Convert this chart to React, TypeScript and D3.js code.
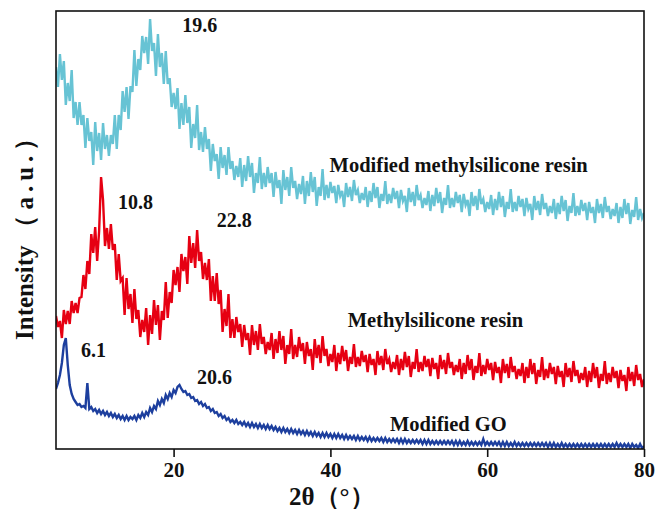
import React, { useEffect, useRef } from "react";
import * as d3 from "d3";

// XRD scans, sampled every 0.25° from 5° to 80° (intensity in a.u.)
const START_ANGLE = 5;
const STEP = 0.25;

const modifiedResin: number[] = [
  382, 362, 395, 369, 388, 344, 366, 348, 379, 331, 347, 324, 347, 324, 334, 301,
  331, 308, 317, 284, 327, 298, 316, 289, 326, 300, 314, 293, 314, 305, 334, 300,
  334, 319, 358, 337, 362, 330, 363, 357, 399, 363, 390, 379, 413, 396, 412, 385,
  430, 398, 406, 373, 415, 382, 396, 365, 398, 365, 371, 342, 356, 340, 361, 320,
  346, 324, 354, 326, 342, 301, 325, 311, 344, 299, 317, 297, 322, 300, 310, 278,
  305, 288, 295, 270, 302, 281, 294, 274, 302, 280, 288, 269, 283, 272, 291, 262,
  284, 268, 293, 272, 286, 256, 276, 266, 292, 260, 276, 262, 282, 266, 276, 252,
  277, 261, 269, 245, 279, 259, 272, 253, 282, 261, 268, 250, 265, 255, 273, 245,
  268, 253, 277, 257, 272, 243, 262, 253, 280, 249, 264, 251, 267, 256, 263, 246,
  264, 253, 258, 242, 266, 252, 262, 248, 269, 254, 259, 246, 256, 249, 262, 242,
  258, 247, 266, 251, 262, 241, 255, 248, 268, 245, 255, 246, 261, 250, 258, 241,
  259, 248, 253, 237, 261, 247, 257, 243, 264, 249, 254, 241, 251, 244, 258, 238,
  254, 243, 261, 246, 257, 236, 251, 244, 264, 241, 251, 242, 257, 246, 254, 237,
  255, 244, 249, 233, 257, 243, 253, 239, 260, 245, 250, 237, 247, 240, 254, 234,
  250, 239, 257, 242, 253, 232, 247, 240, 260, 237, 247, 238, 253, 242, 250, 233,
  251, 240, 245, 229, 253, 239, 248, 234, 255, 240, 246, 233, 243, 236, 250, 230,
  246, 235, 253, 238, 249, 228, 243, 236, 256, 233, 243, 234, 249, 238, 246, 229,
  247, 236, 242, 226, 250, 236, 245, 231, 252, 237, 243, 230, 240, 233, 246, 226,
  242, 231, 250, 235, 246, 225, 239, 232, 252, 229, 240, 231, 236,
];

const methylResin: number[] = [
  133, 122, 128, 111, 139, 125, 138, 125, 148, 136, 146, 136, 151, 152, 174, 160,
  188, 175, 215, 196, 222, 188, 218, 272, 249, 203, 221, 200, 225, 199, 205, 169,
  195, 168, 171, 134, 171, 140, 155, 126, 160, 130, 139, 112, 129, 117, 141, 104,
  134, 115, 149, 124, 144, 109, 138, 129, 167, 131, 157, 146, 179, 164, 182, 157,
  195, 178, 192, 165, 213, 186, 206, 181, 219, 188, 197, 170, 186, 169, 190, 148,
  173, 148, 176, 145, 159, 117, 140, 123, 155, 111, 130, 111, 132, 117, 125, 102,
  124, 109, 116, 94, 124, 104, 118, 99, 125, 105, 112, 95, 107, 99, 116, 90,
  110, 96, 118, 99, 113, 85, 104, 95, 120, 90, 104, 92, 112, 98, 106, 85,
  107, 93, 100, 79, 110, 91, 104, 86, 113, 93, 100, 83, 95, 87, 104, 78,
  96, 85, 103, 88, 99, 78, 92, 85, 105, 82, 92, 83, 98, 87, 94, 77,
  95, 84, 90, 74, 98, 84, 93, 79, 100, 85, 90, 77, 87, 80, 94, 74,
  90, 79, 97, 82, 93, 72, 87, 80, 100, 77, 87, 78, 93, 82, 90, 73,
  91, 80, 86, 70, 94, 80, 89, 75, 96, 81, 87, 74, 84, 77, 90, 70,
  86, 75, 94, 79, 90, 69, 83, 76, 96, 73, 84, 75, 90, 79, 86, 69,
  87, 76, 82, 66, 90, 76, 85, 71, 92, 77, 83, 70, 80, 73, 86, 66,
  82, 71, 90, 75, 86, 65, 79, 72, 92, 69, 80, 71, 86, 75, 82, 65,
  83, 72, 78, 62, 86, 72, 81, 67, 88, 73, 79, 66, 76, 69, 82, 62,
  78, 67, 86, 71, 82, 61, 75, 68, 88, 65, 76, 67, 82, 71, 78, 61,
  79, 68, 74, 58, 82, 68, 77, 63, 84, 69, 75, 62, 70,
];

const modifiedGO: number[] = [
  60, 66, 74, 86, 104, 111, 84, 64, 55, 50, 47, 44, 45, 42, 43, 41,
  66, 40, 42, 38, 40, 36, 39, 35, 38, 34, 37, 33, 36, 32, 35, 31,
  34, 30, 33, 29, 33, 29, 32, 30, 33, 29, 34, 31, 36, 32, 37, 34,
  41, 37, 43, 40, 48, 44, 50, 46, 54, 50, 56, 52, 59, 56, 62, 64,
  60, 57, 58, 54, 55, 51, 52, 48, 49, 45, 47, 43, 45, 41, 42, 38,
  40, 36, 37, 33, 35, 31, 33, 29, 31, 27, 29, 26, 29, 25, 27, 24,
  27, 23, 26, 22, 26, 22, 25, 21, 25, 21, 24, 20, 24, 20, 23, 19,
  22, 18, 21, 17, 21, 17, 20, 16, 20, 16, 19, 15, 19, 15, 18, 14,
  18, 14, 17, 13, 17, 13, 16, 12, 16, 12, 16, 12, 15, 11, 15, 11,
  15, 11, 14, 10, 14, 10, 13, 10, 13, 9, 13, 9, 12, 9, 12, 8,
  12, 8, 11, 8, 11, 8, 11, 7, 11, 7, 10, 7, 10, 7, 10, 6,
  10, 6, 10, 6, 9, 6, 9, 6, 9, 6, 9, 5, 9, 5, 9, 5,
  8, 5, 8, 5, 8, 5, 8, 5, 8, 5, 8, 4, 8, 4, 8, 4,
  7, 4, 8, 4, 7, 4, 7, 4, 7, 4, 10, 4, 7, 4, 7, 4,
  7, 4, 7, 3, 7, 3, 7, 3, 6, 3, 7, 3, 6, 3, 6, 3,
  6, 3, 6, 3, 6, 3, 6, 3, 6, 3, 6, 2, 6, 2, 6, 2,
  5, 2, 6, 2, 5, 2, 5, 2, 5, 2, 5, 2, 5, 2, 5, 2,
  5, 2, 5, 2, 5, 2, 5, 2, 5, 2, 5, 2, 5, 2, 6, 2,
  5, 2, 5, 2, 5, 1, 5, 2, 4, 1, 5, 1, 3,
];

const xTicks = [20, 40, 60, 80];

const series = [
  { name: "modified-resin", values: modifiedResin, color: "#67c3d4", width: 2.4 },
  { name: "resin", values: methylResin, color: "#e60012", width: 2.4 },
  { name: "go", values: modifiedGO, color: "#1d3f9e", width: 2.4 },
];

// peak positions and curve names, anchored in data units
const peakLabels = [
  { text: "19.6", angle: 21.1, intensity: 417 },
  { text: "10.8", angle: 12.9, intensity: 240 },
  { text: "22.8", angle: 25.5, intensity: 222 },
  { text: "6.1", angle: 8.2, intensity: 92 },
  { text: "20.6", angle: 23.0, intensity: 65 },
];

const curveLabels = [
  { text: "Modified methylsilicone resin", angle: 39.9, intensity: 277 },
  { text: "Methylsilicone resin", angle: 42.2, intensity: 122 },
  { text: "Modified GO", angle: 47.6, intensity: 18 },
];

const WIDTH = 658;
const HEIGHT = 509;
const FONT = "'Liberation Serif', 'Times New Roman', serif";

const App: React.FC = () => {
  const svgRef = useRef<SVGSVGElement | null>(null);

  useEffect(() => {
    if (!svgRef.current) return;
    const svg = d3.select(svgRef.current);
    svg.selectAll("*").remove();

    const margin = { top: 11, right: 14, bottom: 60, left: 56 };
    const innerW = WIDTH - margin.left - margin.right;
    const innerH = HEIGHT - margin.top - margin.bottom;

    const x = d3
      .scaleLinear()
      .domain([5, 80])
      .range([margin.left, margin.left + innerW]);
    const y = d3
      .scaleLinear()
      .domain([0, 438])
      .range([margin.top + innerH, margin.top]);

    const line = d3
      .line<number>()
      .x((_, i) => x(START_ANGLE + i * STEP))
      .y((d) => y(d));

    // keep the noisy scans inside the frame
    svg
      .append("clipPath")
      .attr("id", "plot-clip")
      .append("rect")
      .attr("x", margin.left)
      .attr("y", margin.top)
      .attr("width", innerW)
      .attr("height", innerH);

    const g = svg.append("g").attr("clip-path", "url(#plot-clip)");

    series.forEach((s) => {
      g.append("path")
        .attr("d", line(s.values) || "")
        .attr("fill", "none")
        .attr("stroke", s.color)
        .attr("stroke-width", s.width)
        .attr("stroke-linejoin", "miter");
    });

    // frame
    svg
      .append("rect")
      .attr("x", margin.left)
      .attr("y", margin.top)
      .attr("width", innerW)
      .attr("height", innerH)
      .attr("fill", "none")
      .attr("stroke", "#111")
      .attr("stroke-width", 1.6);

    const xAxis = d3
      .axisBottom(x)
      .tickValues(xTicks)
      .tickSize(8)
      .tickPadding(5)
      .tickFormat(d3.format("d"));

    const ax = svg
      .append("g")
      .attr("transform", `translate(0,${margin.top + innerH})`)
      .call(xAxis);
    ax.select(".domain").remove();
    ax.selectAll("line").attr("stroke", "#111").attr("stroke-width", 1.6);
    ax.selectAll("text")
      .attr("font-family", FONT)
      .attr("font-size", 21)
      .attr("font-weight", "bold")
      .attr("fill", "#111");

    const annotate = (items: typeof peakLabels, size: number) => {
      svg
        .append("g")
        .selectAll("text")
        .data(items)
        .join("text")
        .attr("x", (d) => x(d.angle))
        .attr("y", (d) => y(d.intensity))
        .attr("font-family", FONT)
        .attr("font-size", size)
        .attr("font-weight", "bold")
        .attr("fill", "#111")
        .text((d) => d.text);
    };
    annotate(peakLabels, 20);
    annotate(curveLabels, 20.5);

    // axis titles
    svg
      .append("text")
      .attr("x", 289)
      .attr("y", 505)
      .attr("font-family", FONT)
      .attr("font-size", 25)
      .attr("font-weight", "bold")
      .attr("fill", "#111")
      .text("2θ（°）");

    const yTitle = svg
      .append("text")
      .attr("transform", `translate(33,340) rotate(-90)`)
      .attr("font-family", FONT)
      .attr("font-size", 25)
      .attr("font-weight", "bold")
      .attr("fill", "#111");
    yTitle.append("tspan").text("Intensity");
    yTitle.append("tspan").attr("dx", 6).attr("letter-spacing", 5).text("（a.u.）");
  }, []);

  return (
    <svg
      ref={svgRef}
      width={WIDTH}
      height={HEIGHT}
      style={{ position: "absolute", left: 0, top: 0, background: "#fff" }}
    />
  );
};

export default App;
